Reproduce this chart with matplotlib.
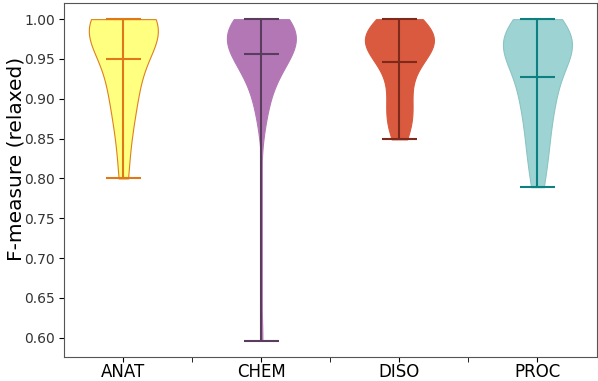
import matplotlib.pyplot as plt
import numpy as np

categories = ['ANAT', 'CHEM', 'DISO', 'PROC']

# per-document F-measure (relaxed)
anat = [1.0, 1.0, 1.0, 1.0, 1.0, 0.99, 0.99, 0.98, 0.98, 0.97, 0.95, 0.93,
        0.92, 0.90, 0.88, 0.85, 0.80]
chem = [1.0, 1.0, 1.0, 1.0, 1.0, 1.0, 1.0, 1.0, 1.0, 1.0, 0.99, 0.99, 0.99,
        0.99, 0.99, 0.99, 0.98, 0.98, 0.98, 0.98, 0.98, 0.98, 0.97, 0.97,
        0.97, 0.97, 0.97, 0.97, 0.97, 0.96, 0.96, 0.96, 0.96, 0.96, 0.95,
        0.95, 0.95, 0.95, 0.94, 0.94, 0.94, 0.93, 0.93, 0.92, 0.92, 0.91,
        0.90, 0.89, 0.88, 0.87, 0.596]
diso = [1.0, 1.0, 1.0, 0.99, 0.99, 0.99, 0.98, 0.98, 0.98, 0.98, 0.97, 0.97,
        0.97, 0.97, 0.97, 0.96, 0.96, 0.96, 0.95, 0.95, 0.94, 0.93, 0.92,
        0.91, 0.90, 0.89, 0.88, 0.875, 0.87, 0.86, 0.849]
proc = [1.0, 0.98, 0.98, 0.98, 0.97, 0.97, 0.97, 0.97, 0.97, 0.97, 0.96,
        0.92, 0.92, 0.91, 0.90, 0.88, 0.86, 0.84, 0.82, 0.789]

face_colors = ['#ffff80', '#b377b5', '#d95a3e', '#9dd3d3']
edge_colors = ['#e0801a', '#b377b5', '#d95a3e', '#8cc4c4']
line_colors = ['#e07818', '#5a3d5c', '#7d2a1c', '#0f8080']

fig = plt.figure(figsize=(5.98, 3.81), dpi=100)
ax = fig.add_axes([0.107, 0.063, 0.891, 0.929])

data = [anat, chem, diso, proc]
for i, vals in enumerate(data):
    parts = ax.violinplot([vals], positions=[i + 1], showmeans=True)
    for body in parts['bodies']:
        body.set_facecolor(face_colors[i])
        body.set_edgecolor(edge_colors[i])
        body.set_alpha(1)
        body.set_linewidth(0.8)
    for key in ['cmins', 'cmaxes', 'cbars', 'cmeans']:
        parts[key].set_color(line_colors[i])
        parts[key].set_linewidth(1.5)

ax.set_xticks([1, 2, 3, 4])
ax.set_xticklabels(categories, fontsize=12)
ax.set_xticks([1.5, 2.5, 3.5], minor=True)
ax.tick_params(axis='x', which='both', length=3.5, pad=1)
ax.set_xlim(0.57, 4.43)
ax.set_yticks(np.arange(0.60, 1.001, 0.05))
ax.set_yticklabels(['%.2f' % v for v in np.arange(0.60, 1.001, 0.05)])
ax.tick_params(axis='y', labelsize=10, labelcolor='#333333', length=3.5, pad=3)
ax.set_ylabel('F-measure (relaxed)', fontsize=14.5)
ax.yaxis.set_label_coords(-0.072, 0.559)
for s in ax.spines.values():
    s.set_color('#555555')

plt.savefig('out.png')
plt.close()
